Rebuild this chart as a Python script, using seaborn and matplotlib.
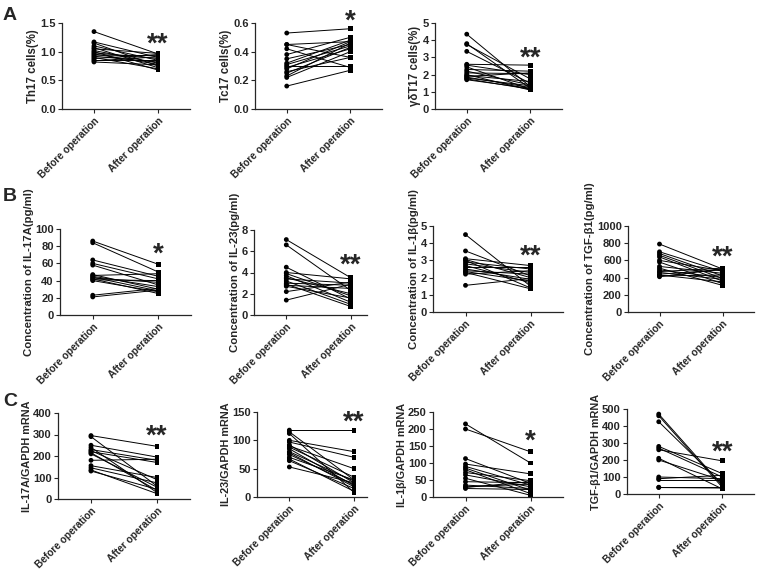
import numpy as np
import pandas as pd
import matplotlib
matplotlib.use("Agg")
import matplotlib.pyplot as plt
import seaborn as sns

groups = ["Before operation", "After operation"]

# A: flow cytometry (%)
th17_before = [1.35, 1.17, 1.15, 1.10, 1.07, 1.05, 1.02, 1.00, 0.98, 0.96, 0.94, 0.92, 0.90, 0.88, 0.86, 0.84, 0.82]
th17_after = [0.96, 0.90, 0.75, 0.85, 0.72, 0.97, 0.80, 0.68, 0.88, 0.78, 0.93, 0.82, 0.70, 0.95, 0.86, 0.91, 0.77]
tc17_before = [0.53, 0.45, 0.45, 0.42, 0.38, 0.35, 0.32, 0.31, 0.30, 0.29, 0.28, 0.26, 0.25, 0.23, 0.22, 0.16]
tc17_after = [0.56, 0.47, 0.36, 0.29, 0.50, 0.45, 0.48, 0.44, 0.30, 0.42, 0.47, 0.36, 0.43, 0.46, 0.40, 0.27]
gdt17_before = [4.35, 3.80, 3.75, 3.35, 2.60, 2.55, 2.45, 2.30, 2.20, 2.10, 2.00, 1.95, 1.90, 1.85, 1.80, 1.75, 1.70]
gdt17_after = [1.30, 1.20, 1.75, 1.50, 2.55, 2.00, 1.15, 2.20, 1.40, 2.05, 1.10, 1.60, 2.10, 1.25, 1.35, 1.15, 1.20]

# B: serum concentration (pg/ml)
il17a_before = [86, 84, 64, 60, 58, 47, 46, 45, 44, 43, 42, 41, 40, 23, 21]
il17a_after = [59, 50, 45, 42, 35, 30, 48, 33, 28, 38, 25, 40, 27, 31, 29]
il23_before = [7.1, 6.6, 4.5, 4.0, 3.9, 3.7, 3.5, 3.4, 3.2, 3.0, 2.9, 2.8, 2.7, 2.2, 1.4]
il23_after = [3.5, 2.3, 1.5, 3.4, 1.8, 1.2, 2.0, 3.0, 1.0, 2.8, 0.8, 2.5, 1.6, 3.1, 2.9]
il1b_before = [4.5, 3.55, 3.1, 3.05, 3.0, 2.9, 2.8, 2.7, 2.6, 2.5, 2.4, 2.35, 2.3, 2.2, 1.55]
il1b_after = [1.5, 2.1, 2.7, 2.0, 1.4, 2.5, 2.3, 1.7, 2.6, 1.9, 2.2, 1.8, 1.35, 2.4, 1.95]
tgfb_before = [790, 700, 680, 660, 640, 600, 580, 530, 510, 490, 470, 460, 440, 430, 420, 410]
tgfb_after = [500, 470, 420, 390, 360, 480, 330, 450, 310, 400, 510, 380, 490, 350, 430, 500]

# C: mRNA relative to GAPDH
il17a_m_before = [295, 290, 250, 240, 230, 225, 220, 215, 210, 180, 155, 145, 135, 130]
il17a_m_after = [245, 60, 195, 30, 180, 90, 170, 40, 55, 185, 100, 75, 25, 45]
il23_m_before = [118, 115, 112, 100, 97, 92, 90, 88, 85, 80, 78, 75, 70, 67, 64, 53]
il23_m_after = [118, 30, 8, 80, 70, 25, 50, 35, 20, 28, 18, 22, 30, 10, 15, 25]
il1b_m_before = [215, 200, 113, 97, 90, 85, 80, 72, 65, 55, 45, 35, 30, 28, 25]
il1b_m_after = [100, 133, 40, 68, 35, 20, 10, 48, 30, 5, 42, 25, 38, 45, 22]
tgfb_m_before = [470, 460, 425, 280, 270, 260, 210, 200, 100, 90, 85, 40, 38]
tgfb_m_after = [50, 40, 60, 120, 100, 195, 30, 80, 90, 110, 85, 40, 35]

ylabels = ["Th17 cells(%)", "Tc17 cells(%)", "\u03b3\u03b4T17 cells(%)",
           "Concentration of IL-17A(pg/ml)", "Concentration of IL-23(pg/ml)",
           "Concentration of IL-1\u03b2(pg/ml)", "Concentration of TGF-\u03b21(pg/ml)",
           "IL-17A/GAPDH mRNA", "IL-23/GAPDH mRNA", "IL-1\u03b2/GAPDH mRNA", "TGF-\u03b21/GAPDH mRNA"]
yticks = [[0, 0.5, 1.0, 1.5], [0, 0.2, 0.4, 0.6], [0, 1, 2, 3, 4, 5],
          [0, 20, 40, 60, 80, 100], [0, 2, 4, 6, 8], [0, 1, 2, 3, 4, 5], [0, 200, 400, 600, 800, 1000],
          [0, 100, 200, 300, 400], [0, 50, 100, 150], [0, 50, 100, 150, 200, 250], [0, 100, 200, 300, 400, 500]]
stars = ["**", "*", "**", "*", "**", "**", "**", "**", "**", "*", "**"]

series = [(th17_before, th17_after), (tc17_before, tc17_after), (gdt17_before, gdt17_after),
          (il17a_before, il17a_after), (il23_before, il23_after), (il1b_before, il1b_after), (tgfb_before, tgfb_after),
          (il17a_m_before, il17a_m_after), (il23_m_before, il23_m_after), (il1b_m_before, il1b_m_after),
          (tgfb_m_before, tgfb_m_after)]

# layout: axes boxes in pixels (left, top, width, height), right xlim, star height
W, H = 765, 574
boxes = [(62, 23, 128, 86), (255, 23, 127, 86), (435, 23, 127, 86),
         (60, 229, 131, 86), (254, 230, 113, 85), (433, 226, 130, 86), (628, 226, 126, 86),
         (58, 413, 132, 86), (257, 412, 110, 85), (433, 412, 130, 85), (627, 409, 127, 85)]
xright = [1.5, 1.5, 1.5, 1.5, 1.25, 1.5, 1.5, 1.5, 1.2, 1.5, 1.5]
star_y = [1.13, 0.61, 2.95, 70, 4.6, 3.2, 630, 290, 132, 163, 245]
label_size = [8.3, 8.3, 8.3, 8.2, 8.2, 8.2, 8.2, 7.8, 7.8, 7.8, 7.8]

sns.set_style("ticks")
plt.rcParams['font.family'] = ['Liberation Sans', 'DejaVu Sans']
plt.rcParams['font.weight'] = 'bold'
plt.rcParams['axes.labelweight'] = 'bold'

fig = plt.figure(figsize=(W / 100, H / 100), dpi=100)

for i, (before, after) in enumerate(series):
    l, t, w, h = boxes[i]
    ax = fig.add_axes([l / W, 1 - (t + h) / H, w / W, h / H])
    n = len(before)
    df = pd.DataFrame({
        "subject": list(range(n)) * 2,
        "time": [groups[0]] * n + [groups[1]] * n,
        "value": list(before) + list(after),
    })
    sns.lineplot(data=df, x="time", y="value", units="subject", estimator=None,
                 color="black", lw=0.7, sort=False, ax=ax)
    sns.scatterplot(data=df, x="time", y="value", style="time",
                    markers={groups[0]: "o", groups[1]: "s"}, color="black",
                    s=12, linewidth=0, legend=False, ax=ax)
    ax.set_xlim(-0.5, xright[i])
    ax.set_ylim(0, yticks[i][-1])
    ax.set_yticks(yticks[i])
    if i == 0:
        ax.set_yticklabels(["0.0", "0.5", "1.0", "1.5"])
    elif i == 1:
        ax.set_yticklabels(["0.0", "0.2", "0.4", "0.6"])
    ax.set_xticks([0, 1])
    ax.set_xticklabels(groups, rotation=45, ha="right", rotation_mode="anchor", fontsize=7.3)
    ax.set_xlabel("")
    ax.set_ylabel(ylabels[i], fontsize=label_size[i], labelpad=1)
    ax.tick_params(axis="y", labelsize=8, length=3, width=0.8, pad=1.5)
    ax.tick_params(axis="x", length=3, width=0.8, pad=2)
    for s in ["left", "bottom"]:
        ax.spines[s].set_linewidth(0.9)
    sns.despine(ax=ax)
    ax.text(1, star_y[i], stars[i], ha="center", va="center", fontsize=20)

for letter, y in [("A", 15), ("B", 196), ("C", 401)]:
    fig.text(3 / W, 1 - y / H, letter, fontsize=14, fontweight="bold", va="center")

fig.savefig("out.png", dpi=100)
